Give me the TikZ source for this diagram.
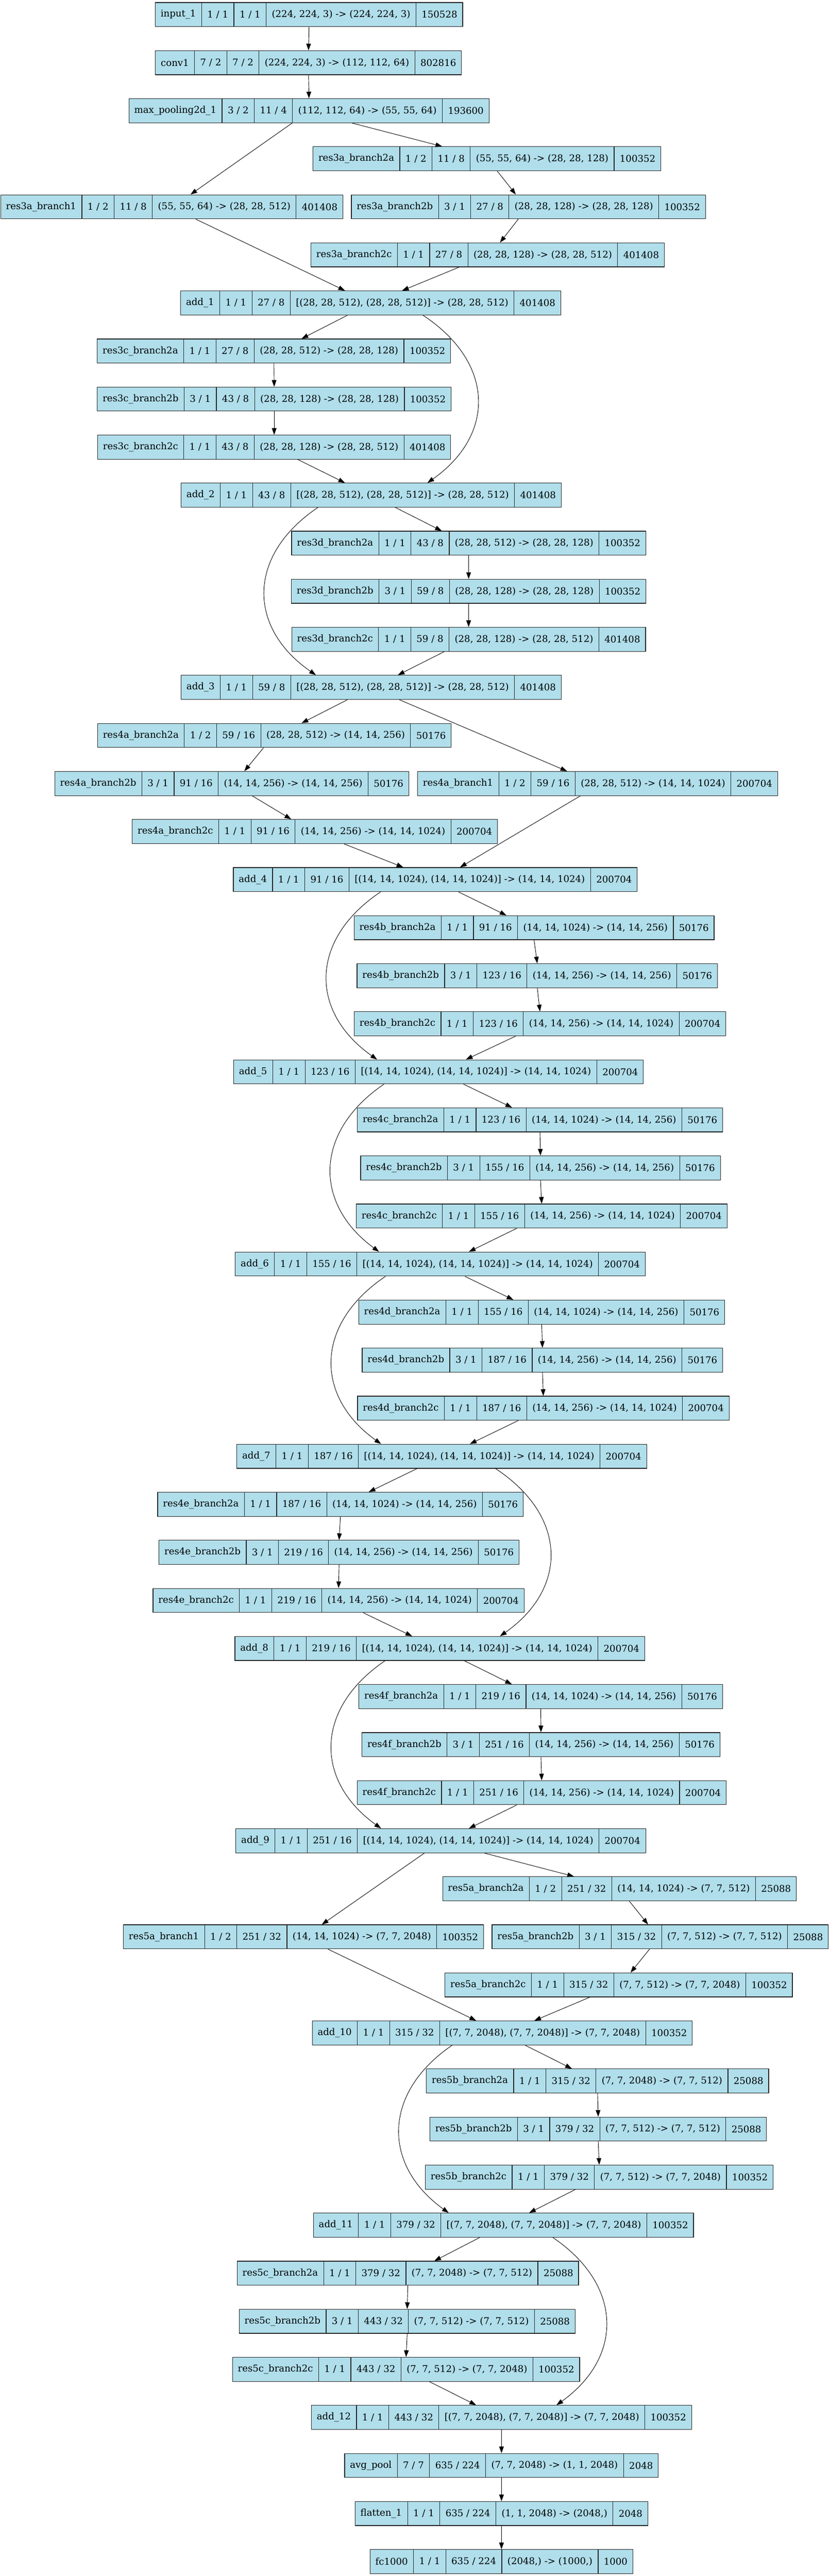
\documentclass[tikz,border=0pt]{standalone}
\usepackage{fontspec}
\setmainfont{DejaVu Serif}
\usepackage{tikz}
\usetikzlibrary{shapes.multipart,arrows.meta}
\definecolor{lightblue}{HTML}{B0DEEB}
\newcommand{\rec}[5]{#1\nodepart{two}#2\nodepart{three}#3\nodepart{four}#4\nodepart{five}#5}

\begin{document}
\begin{tikzpicture}[->, >={Triangle[length=10pt,width=7pt]}, x=0.7395pt, y=-72pt, line width=0.7pt]
    \tikzset{layer/.style={rectangle split, rectangle split horizontal, rectangle split parts=5,
        draw=black!85, line width=0.9pt, fill=lightblue, text=black, minimum height=36pt,
        inner xsep=8pt, inner ysep=0pt, font=\fontsize{14pt}{17pt}\selectfont}}
    \useasboundingbox (0,-0.304) rectangle (1681,53.301);

    % stem
    \node[layer] (input1)  at (626,0)    {\rec{input\_1}{1 / 1}{1 / 1}{(224, 224, 3) -> (224, 224, 3)}{150528}};
    \node[layer] (conv1)   at (625,1)    {\rec{conv1}{7 / 2}{7 / 2}{(224, 224, 3) -> (112, 112, 64)}{802816}};
    \node[layer] (maxpool) at (626,2)    {\rec{max\_pooling2d\_1}{3 / 2}{11 / 4}{(112, 112, 64) -> (55, 55, 64)}{193600}};

    % stage 3
    \node[layer] (res3a2a) at (986.5,3)  {\rec{res3a\_branch2a}{1 / 2}{11 / 8}{(55, 55, 64) -> (28, 28, 128)}{100352}};
    \node[layer] (res3a1)  at (348,4)    {\rec{res3a\_branch1}{1 / 2}{11 / 8}{(55, 55, 64) -> (28, 28, 512)}{401408}};
    \node[layer] (res3a2b) at (1070.5,4) {\rec{res3a\_branch2b}{3 / 1}{27 / 8}{(28, 28, 128) -> (28, 28, 128)}{100352}};
    \node[layer] (res3a2c) at (988,5)    {\rec{res3a\_branch2c}{1 / 1}{27 / 8}{(28, 28, 128) -> (28, 28, 512)}{401408}};
    \node[layer] (add1)    at (751,6)    {\rec{add\_1}{1 / 1}{27 / 8}{[(28, 28, 512), (28, 28, 512)] -> (28, 28, 512)}{401408}};
    \node[layer] (res3c2a) at (555,7)    {\rec{res3c\_branch2a}{1 / 1}{27 / 8}{(28, 28, 512) -> (28, 28, 128)}{100352}};
    \node[layer] (res3c2b) at (555.5,8)  {\rec{res3c\_branch2b}{3 / 1}{43 / 8}{(28, 28, 128) -> (28, 28, 128)}{100352}};
    \node[layer] (res3c2c) at (555.5,9)  {\rec{res3c\_branch2c}{1 / 1}{43 / 8}{(28, 28, 128) -> (28, 28, 512)}{401408}};
    \node[layer] (add2)    at (752,10)   {\rec{add\_2}{1 / 1}{43 / 8}{[(28, 28, 512), (28, 28, 512)] -> (28, 28, 512)}{401408}};
    \node[layer] (res3d2a) at (949.5,11) {\rec{res3d\_branch2a}{1 / 1}{43 / 8}{(28, 28, 512) -> (28, 28, 128)}{100352}};
    \node[layer] (res3d2b) at (949.5,12) {\rec{res3d\_branch2b}{3 / 1}{59 / 8}{(28, 28, 128) -> (28, 28, 128)}{100352}};
    \node[layer] (res3d2c) at (949.5,13) {\rec{res3d\_branch2c}{1 / 1}{59 / 8}{(28, 28, 128) -> (28, 28, 512)}{401408}};
    \node[layer] (add3)    at (752,14)   {\rec{add\_3}{1 / 1}{59 / 8}{[(28, 28, 512), (28, 28, 512)] -> (28, 28, 512)}{401408}};

    % stage 4
    \node[layer] (res4a2a) at (556,15)   {\rec{res4a\_branch2a}{1 / 2}{59 / 16}{(28, 28, 512) -> (14, 14, 256)}{50176}};
    \node[layer] (res4a2b) at (469.5,16) {\rec{res4a\_branch2b}{3 / 1}{91 / 16}{(14, 14, 256) -> (14, 14, 256)}{50176}};
    \node[layer] (res4a1)  at (1210.7,16){\rec{res4a\_branch1}{1 / 2}{59 / 16}{(28, 28, 512) -> (14, 14, 1024)}{200704}};
    \node[layer] (res4a2c) at (638,17)   {\rec{res4a\_branch2c}{1 / 1}{91 / 16}{(14, 14, 256) -> (14, 14, 1024)}{200704}};
    \node[layer] (add4)    at (882,18)   {\rec{add\_4}{1 / 1}{91 / 16}{[(14, 14, 1024), (14, 14, 1024)] -> (14, 14, 1024)}{200704}};
    \node[layer] (res4b2a) at (1082,19)  {\rec{res4b\_branch2a}{1 / 1}{91 / 16}{(14, 14, 1024) -> (14, 14, 256)}{50176}};
    \node[layer] (res4b2b) at (1088.5,20){\rec{res4b\_branch2b}{3 / 1}{123 / 16}{(14, 14, 256) -> (14, 14, 256)}{50176}};
    \node[layer] (res4b2c) at (1094,21)  {\rec{res4b\_branch2c}{1 / 1}{123 / 16}{(14, 14, 256) -> (14, 14, 1024)}{200704}};
    \node[layer] (add5)    at (888.5,22) {\rec{add\_5}{1 / 1}{123 / 16}{[(14, 14, 1024), (14, 14, 1024)] -> (14, 14, 1024)}{200704}};
    \node[layer] (res4c2a) at (1094,23)  {\rec{res4c\_branch2a}{1 / 1}{123 / 16}{(14, 14, 1024) -> (14, 14, 256)}{50176}};
    \node[layer] (res4c2b) at (1095,24)  {\rec{res4c\_branch2b}{3 / 1}{155 / 16}{(14, 14, 256) -> (14, 14, 256)}{50176}};
    \node[layer] (res4c2c) at (1097.5,25){\rec{res4c\_branch2c}{1 / 1}{155 / 16}{(14, 14, 256) -> (14, 14, 1024)}{200704}};
    \node[layer] (add6)    at (892,26)   {\rec{add\_6}{1 / 1}{155 / 16}{[(14, 14, 1024), (14, 14, 1024)] -> (14, 14, 1024)}{200704}};
    \node[layer] (res4d2a) at (1097.5,27){\rec{res4d\_branch2a}{1 / 1}{155 / 16}{(14, 14, 1024) -> (14, 14, 256)}{50176}};
    \node[layer] (res4d2b) at (1099,28)  {\rec{res4d\_branch2b}{3 / 1}{187 / 16}{(14, 14, 256) -> (14, 14, 256)}{50176}};
    \node[layer] (res4d2c) at (1100.8,29){\rec{res4d\_branch2c}{1 / 1}{187 / 16}{(14, 14, 256) -> (14, 14, 1024)}{200704}};
    \node[layer] (add7)    at (895,30)   {\rec{add\_7}{1 / 1}{187 / 16}{[(14, 14, 1024), (14, 14, 1024)] -> (14, 14, 1024)}{200704}};
    \node[layer] (res4e2a) at (689.7,31) {\rec{res4e\_branch2a}{1 / 1}{187 / 16}{(14, 14, 1024) -> (14, 14, 256)}{50176}};
    \node[layer] (res4e2b) at (687,32)   {\rec{res4e\_branch2b}{3 / 1}{219 / 16}{(14, 14, 256) -> (14, 14, 256)}{50176}};
    \node[layer] (res4e2c) at (686,33)   {\rec{res4e\_branch2c}{1 / 1}{219 / 16}{(14, 14, 256) -> (14, 14, 1024)}{200704}};
    \node[layer] (add8)    at (891,34)   {\rec{add\_8}{1 / 1}{219 / 16}{[(14, 14, 1024), (14, 14, 1024)] -> (14, 14, 1024)}{200704}};
    \node[layer] (res4f2a) at (1095.5,35){\rec{res4f\_branch2a}{1 / 1}{219 / 16}{(14, 14, 1024) -> (14, 14, 256)}{50176}};
    \node[layer] (res4f2b) at (1096,36)  {\rec{res4f\_branch2b}{3 / 1}{251 / 16}{(14, 14, 256) -> (14, 14, 256)}{50176}};
    \node[layer] (res4f2c) at (1097.5,37){\rec{res4f\_branch2c}{1 / 1}{251 / 16}{(14, 14, 256) -> (14, 14, 1024)}{200704}};
    \node[layer] (add9)    at (893,38)   {\rec{add\_9}{1 / 1}{251 / 16}{[(14, 14, 1024), (14, 14, 1024)] -> (14, 14, 1024)}{200704}};

    % stage 5
    \node[layer] (res5a2a) at (1255,39)  {\rec{res5a\_branch2a}{1 / 2}{251 / 32}{(14, 14, 1024) -> (7, 7, 512)}{25088}};
    \node[layer] (res5a1)  at (614.7,40) {\rec{res5a\_branch1}{1 / 2}{251 / 32}{(14, 14, 1024) -> (7, 7, 2048)}{100352}};
    \node[layer] (res5a2b) at (1337.5,40){\rec{res5a\_branch2b}{3 / 1}{315 / 32}{(7, 7, 512) -> (7, 7, 512)}{25088}};
    \node[layer] (res5a2c) at (1253.5,41){\rec{res5a\_branch2c}{1 / 1}{315 / 32}{(7, 7, 512) -> (7, 7, 2048)}{100352}};
    \node[layer] (add10)   at (1017.7,42){\rec{add\_10}{1 / 1}{315 / 32}{[(7, 7, 2048), (7, 7, 2048)] -> (7, 7, 2048)}{100352}};
    \node[layer] (res5b2a) at (1210.7,43){\rec{res5b\_branch2a}{1 / 1}{315 / 32}{(7, 7, 2048) -> (7, 7, 512)}{25088}};
    \node[layer] (res5b2b) at (1212,44)  {\rec{res5b\_branch2b}{3 / 1}{379 / 32}{(7, 7, 512) -> (7, 7, 512)}{25088}};
    \node[layer] (res5b2c) at (1214,45)  {\rec{res5b\_branch2c}{1 / 1}{379 / 32}{(7, 7, 512) -> (7, 7, 2048)}{100352}};
    \node[layer] (add11)   at (1020,46)  {\rec{add\_11}{1 / 1}{379 / 32}{[(7, 7, 2048), (7, 7, 2048)] -> (7, 7, 2048)}{100352}};
    \node[layer] (res5c2a) at (826.4,47) {\rec{res5c\_branch2a}{1 / 1}{379 / 32}{(7, 7, 2048) -> (7, 7, 512)}{25088}};
    \node[layer] (res5c2b) at (825,48)   {\rec{res5c\_branch2b}{3 / 1}{443 / 32}{(7, 7, 512) -> (7, 7, 512)}{25088}};
    \node[layer] (res5c2c) at (822.7,49) {\rec{res5c\_branch2c}{1 / 1}{443 / 32}{(7, 7, 512) -> (7, 7, 2048)}{100352}};
    \node[layer] (add12)   at (1016,50)  {\rec{add\_12}{1 / 1}{443 / 32}{[(7, 7, 2048), (7, 7, 2048)] -> (7, 7, 2048)}{100352}};

    % head
    \node[layer] (avgpool)  at (1016,51) {\rec{avg\_pool}{7 / 7}{635 / 224}{(7, 7, 2048) -> (1, 1, 2048)}{2048}};
    \node[layer] (flatten1) at (1016,52) {\rec{flatten\_1}{1 / 1}{635 / 224}{(1, 1, 2048) -> (2048,)}{2048}};
    \node[layer] (fc1000)   at (1016,53) {\rec{fc1000}{1 / 1}{635 / 224}{(2048,) -> (1000,)}{1000}};

    % connectors
    \draw (input1.south) -- (conv1.north);
    \draw (conv1.south) -- (maxpool.north);
    \draw ([shift={(87,0)}]maxpool.south) -- ([shift={(-90.5,0)}]res3a2a.north);
    \draw ([shift={(-34,0)}]maxpool.south) -- ([shift={(38,0)}]res3a1.north);
    \draw ([shift={(21,0)}]res3a2a.south) -- ([shift={(-25.5,0)}]res3a2b.north);
    \draw ([shift={(-20.5,0)}]res3a2b.south) -- ([shift={(25,0)}]res3a2c.north);
    \draw ([shift={(48.6,0)}]res3a1.south) -- ([shift={(-52,0)}]add1.north);
    \draw ([shift={(-58,0)}]res3a2c.south) -- ([shift={(63.6,0)}]add1.north);
    \draw ([shift={(-47,0)}]add1.south) -- ([shift={(56,0)}]res3c2a.north);
    \draw (res3c2a.south) -- (res3c2b.north);
    \draw (res3c2b.south) -- (res3c2c.north);
    \draw ([shift={(47.5,0)}]res3c2c.south) -- ([shift={(-53,0)}]add2.north);
    \draw ([shift={(49,0)}]add2.south) -- ([shift={(-54.5,0)}]res3d2a.north);
    \draw (res3d2a.south) -- (res3d2b.north);
    \draw (res3d2b.south) -- (res3d2c.north);
    \draw ([shift={(-49.5,0)}]res3d2c.south) -- ([shift={(54,0)}]add3.north);
    \draw ([shift={(-48,0)}]add3.south) -- ([shift={(55,0)}]res4a2a.north);
    \draw ([shift={(57,0)}]add3.south) -- ([shift={(-61.7,0)}]res4a1.north);
    \draw ([shift={(-22,0)}]res4a2a.south) -- ([shift={(25.5,0)}]res4a2b.north);
    \draw ([shift={(41.5,0)}]res4a2b.south) -- ([shift={(-48,0)}]res4a2c.north);
    \draw ([shift={(59,0)}]res4a2c.south) -- ([shift={(-65,0)}]add4.north);
    \draw ([shift={(-34.7,0)}]res4a1.south) -- ([shift={(50,0)}]add4.north);
    \draw ([shift={(47,0)}]add4.south) -- ([shift={(-56,0)}]res4b2a.north);
    \draw (res4b2a.south) -- (res4b2b.north);
    \draw (res4b2b.south) -- (res4b2c.north);
    \draw ([shift={(-49,0)}]res4b2c.south) -- ([shift={(55.5,0)}]add5.north);
    \draw ([shift={(50.5,0)}]add5.south) -- ([shift={(-56.5,0)}]res4c2a.north);
    \draw (res4c2a.south) -- (res4c2b.north);
    \draw (res4c2b.south) -- (res4c2c.north);
    \draw ([shift={(-50.5,0)}]res4c2c.south) -- ([shift={(58,0)}]add6.north);
    \draw ([shift={(50,0)}]add6.south) -- ([shift={(-57.5,0)}]res4d2a.north);
    \draw (res4d2a.south) -- (res4d2b.north);
    \draw (res4d2b.south) -- (res4d2c.north);
    \draw ([shift={(-50.8,0)}]res4d2c.south) -- ([shift={(57,0)}]add7.north);
    \draw ([shift={(-50,0)}]add7.south) -- ([shift={(57.3,0)}]res4e2a.north);
    \draw (res4e2a.south) -- (res4e2b.north);
    \draw (res4e2b.south) -- (res4e2c.north);
    \draw ([shift={(50,0)}]res4e2c.south) -- ([shift={(-56,0)}]add8.north);
    \draw ([shift={(50,0)}]add8.south) -- ([shift={(-58.5,0)}]res4f2a.north);
    \draw (res4f2a.south) -- (res4f2b.north);
    \draw (res4f2b.south) -- (res4f2c.north);
    \draw ([shift={(-50.5,0)}]res4f2c.south) -- ([shift={(57,0)}]add9.north);
    \draw ([shift={(-33,0)}]add9.south) -- ([shift={(37.3,0)}]res5a1.north);
    \draw ([shift={(88,0)}]add9.south) -- ([shift={(-92,0)}]res5a2a.north);
    \draw ([shift={(20,0)}]res5a2a.south) -- ([shift={(-24.5,0)}]res5a2b.north);
    \draw ([shift={(-21.5,0)}]res5a2b.south) -- ([shift={(24,0)}]res5a2c.north);
    \draw ([shift={(-58.5,0)}]res5a2c.south) -- ([shift={(64.8,0)}]add10.north);
    \draw ([shift={(49.8,0)}]res5a1.south) -- ([shift={(-53,0)}]add10.north);
    \draw ([shift={(46.3,0)}]add10.south) -- ([shift={(-52,0)}]res5b2a.north);
    \draw (res5b2a.south) -- (res5b2b.north);
    \draw (res5b2b.south) -- (res5b2c.north);
    \draw ([shift={(-48,0)}]res5b2c.south) -- ([shift={(52,0)}]add11.north);
    \draw ([shift={(-48,0)}]add11.south) -- ([shift={(53.6,0)}]res5c2a.north);
    \draw (res5c2a.south) -- (res5c2b.north);
    \draw (res5c2b.south) -- (res5c2c.north);
    \draw ([shift={(47.3,0)}]res5c2c.south) -- ([shift={(-51.4,0)}]add12.north);
    \draw (add12.south) -- (avgpool.north);
    \draw (avgpool.south) -- (flatten1.north);
    \draw (flatten1.south) -- (fc1000.north);

    % identity shortcuts
    \draw ([shift={(106,0)}]add1.south) .. controls (1003.5,7.25) and (1003.5,8.75) .. ([shift={(114,0)}]add2.north);
    \draw ([shift={(-108,0)}]add2.south) .. controls (500.7,11.25) and (500.7,12.75) .. ([shift={(-112,0)}]add3.north);
    \draw ([shift={(-111,0)}]add4.south) .. controls (626.8,19.25) and (626.8,20.75) .. ([shift={(-124.5,0)}]add5.north);
    \draw ([shift={(-110.5,0)}]add5.south) .. controls (635.7,23.25) and (635.7,24.75) .. ([shift={(-124,0)}]add6.north);
    \draw ([shift={(-111,0)}]add6.south) .. controls (637.2,27.25) and (637.2,28.75) .. ([shift={(-123,0)}]add7.north);
    \draw ([shift={(109,0)}]add7.south) .. controls (1150.5,31.25) and (1150.5,32.75) .. ([shift={(122,0)}]add8.north);
    \draw ([shift={(-111,0)}]add8.south) .. controls (637.3,35.25) and (637.3,36.75) .. ([shift={(-121,0)}]add9.north);
    \draw ([shift={(-101.7,0)}]add10.south) .. controls (774.5,43.25) and (774.5,44.75) .. ([shift={(-111,0)}]add11.north);
    \draw ([shift={(100,0)}]add11.south) .. controls (1262.75,47.25) and (1262.75,48.75) .. ([shift={(111.5,0)}]add12.north);
\end{tikzpicture}
\end{document}
